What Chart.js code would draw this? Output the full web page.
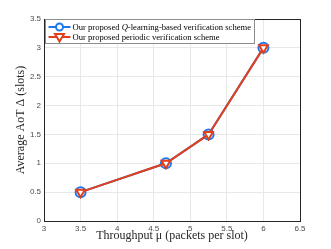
<!DOCTYPE html>
<html>
<head>
<meta charset="utf-8">
<script src="https://cdn.jsdelivr.net/npm/chart.js@4/dist/chart.umd.min.js"></script>
<style>
    html, body { margin: 0; padding: 0; background: #fff; }
    #wrap { width: 331px; height: 249px; }
</style>
</head>
<body>
<div id="wrap"><canvas id="aotChart" width="331" height="249"></canvas></div>
<script>
// throughput values (x) and average AoT (y)
const throughput = [3.5, 4.667, 5.25, 6];
const aotQLearning = [0.5, 1, 1.5, 3];
const aotPeriodic = [0.5, 1, 1.5, 3];

const xTicks = [3, 3.5, 4, 4.5, 5, 5.5, 6, 6.5];
const yTicks = [0, 0.5, 1, 1.5, 2, 2.5, 3, 3.5];

const seriesNames = [
    ["Our proposed ", "Q", "-learning-based verification scheme"],
    ["Our proposed periodic verification scheme"],
];

const BLUE = "#1f78ee";
const RED = "#e2401a";
const SERIF = "'Liberation Serif', 'DejaVu Serif', serif";

function toPoints(xs, ys) {
    return xs.map((x, i) => ({ x: x, y: ys[i] }));
}

// box around the plot area + legend inside the top-left corner
const boxAndLegend = {
    id: "boxAndLegend",
    afterDraw(chart) {
        const { ctx, chartArea: a } = chart;
        ctx.save();
        ctx.strokeStyle = "#262626";
        ctx.lineWidth = 1;
        ctx.strokeRect(a.left + 0.5, a.top + 0.5, a.right - a.left, a.bottom - a.top);

        // legend box
        const lx = a.left + 1.5, ly = a.top + 0.5, lw = 209, lh = 24;
        ctx.fillStyle = "#fff";
        ctx.fillRect(lx, ly, lw, lh);
        ctx.strokeStyle = "#8c8c8c";
        ctx.strokeRect(lx, ly, lw, lh);

        const rows = [ly + 7.5, ly + 17.5];
        const colors = [BLUE, RED];
        rows.forEach((ry, i) => {
            ctx.strokeStyle = colors[i];
            ctx.lineWidth = 2;
            ctx.beginPath();
            ctx.moveTo(lx + 3, ry);
            ctx.lineTo(lx + 25, ry);
            ctx.stroke();
            ctx.fillStyle = "#fff";
            if (i === 0) {
                ctx.beginPath();
                ctx.arc(lx + 14, ry, 3.5, 0, Math.PI * 2);
                ctx.fill();
                ctx.stroke();
            } else {
                ctx.beginPath();
                ctx.moveTo(lx + 9.5, ry - 3);
                ctx.lineTo(lx + 18.5, ry - 3);
                ctx.lineTo(lx + 14, ry + 4.5);
                ctx.closePath();
                ctx.fill();
                ctx.stroke();
            }

            // text, with italic Q in the first entry
            let tx = lx + 27;
            ctx.fillStyle = "#000";
            ctx.textBaseline = "middle";
            seriesNames[i].forEach((part, j) => {
                const italic = seriesNames[i].length > 1 && j === 1;
                ctx.font = (italic ? "italic " : "") + "8.6px " + SERIF;
                ctx.fillText(part, tx, ry + 0.5);
                tx += ctx.measureText(part).width;
            });
        });
        ctx.restore();
    },
};

function initChart() {
    const ctx = document.getElementById("aotChart").getContext("2d");

    new Chart(ctx, {
        type: "line",
        data: {
            datasets: [
                {
                    label: "Q-learning-based",
                    data: toPoints(throughput, aotQLearning),
                    borderColor: BLUE,
                    backgroundColor: BLUE,
                    borderWidth: 2,
                    pointStyle: "circle",
                    pointRadius: 5,
                    pointBorderWidth: 2,
                    pointBackgroundColor: "#fff",
                    pointBorderColor: BLUE,
                    tension: 0,
                    order: 2,
                },
                {
                    label: "periodic",
                    data: toPoints(throughput, aotPeriodic),
                    borderColor: RED,
                    backgroundColor: RED,
                    borderWidth: 2,
                    pointStyle: "triangle",
                    pointRotation: 180,
                    pointRadius: 5,
                    pointBorderWidth: 2,
                    pointBackgroundColor: "#fff",
                    pointBorderColor: RED,
                    tension: 0,
                    order: 1,
                },
            ],
        },
        options: {
            responsive: false,
            animation: false,
            layout: { padding: { left: 0, right: 31, top: 19, bottom: 0 } },
            plugins: {
                legend: { display: false },
                tooltip: { enabled: false },
            },
            scales: {
                x: {
                    type: "linear",
                    min: 3,
                    max: 6.5,
                    afterFit: (s) => { s.height = 28; },
                    afterBuildTicks: (s) => { s.ticks = xTicks.map((v) => ({ value: v })); },
                    grid: { color: "#e8e8e8", drawTicks: false },
                    border: { color: "#262626" },
                    ticks: {
                        padding: 3,
                        color: "#4d4d4d",
                        font: { family: "'Liberation Sans', Arial, sans-serif", size: 8 },
                        callback: (v) => String(v),
                    },
                    title: {
                        display: true,
                        text: "Throughput \u03bc (packets per slot)",
                        color: "#262626",
                        font: { family: SERIF, size: 12 },
                        padding: { top: 0, bottom: 6 },
                    },
                },
                y: {
                    type: "linear",
                    min: 0,
                    max: 3.5,
                    afterFit: (s) => { s.width = 44; },
                    afterBuildTicks: (s) => { s.ticks = yTicks.map((v) => ({ value: v })); },
                    grid: { color: "#e8e8e8", drawTicks: false },
                    border: { color: "#262626" },
                    ticks: {
                        padding: 3,
                        color: "#4d4d4d",
                        font: { family: "'Liberation Sans', Arial, sans-serif", size: 8 },
                        callback: (v) => String(v),
                    },
                    title: {
                        display: true,
                        text: "Average AoT \u0394 (slots)",
                        color: "#262626",
                        font: { family: SERIF, size: 12 },
                        padding: { top: 14, bottom: 0 },
                    },
                },
            },
        },
        plugins: [boxAndLegend],
    });
}

initChart();
</script>
</body>
</html>
